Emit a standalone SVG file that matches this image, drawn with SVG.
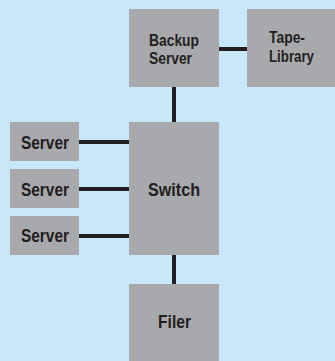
<svg xmlns="http://www.w3.org/2000/svg" width="335" height="361" viewBox="0 0 335 361">
<style>
.box{fill:#a8a9ad}
.lbl{font-family:"Liberation Sans",Arial,sans-serif;font-weight:bold;fill:#231f20}
.s{font-size:16.3px}
.b{font-size:19px}
.ln{stroke:#231f20;stroke-width:4;fill:none}
</style>
<rect width="335" height="361" fill="#c8e8fa"/>
<g id="connectors">
<line class="ln" x1="219" y1="49" x2="247" y2="49"/>
<line class="ln" x1="174" y1="87" x2="174" y2="122"/>
<line class="ln" x1="79" y1="142" x2="129" y2="142"/>
<line class="ln" x1="79" y1="189" x2="129" y2="189"/>
<line class="ln" x1="79" y1="236" x2="129" y2="236"/>
<line class="ln" x1="174" y1="255" x2="174" y2="284"/>
</g>
<g id="backup-server"><rect class="box" x="129" y="9" width="90" height="78"/><text class="lbl s" x="149" y="46" textLength="50" lengthAdjust="spacingAndGlyphs">Backup</text><text class="lbl s" x="149" y="64" textLength="43" lengthAdjust="spacingAndGlyphs">Server</text></g>
<g id="tape-library"><rect class="box" x="247" y="9" width="88" height="78"/><text class="lbl s" x="269" y="43" textLength="36" lengthAdjust="spacingAndGlyphs">Tape-</text><text class="lbl s" x="269" y="62" textLength="45" lengthAdjust="spacingAndGlyphs">Library</text></g>
<g id="switch"><rect class="box" x="129" y="122" width="90" height="133"/><text class="lbl b" x="148" y="196" textLength="52" lengthAdjust="spacingAndGlyphs">Switch</text></g>
<g id="server1"><rect class="box" x="10" y="122" width="69" height="39"/><text class="lbl b" x="21" y="149" textLength="48" lengthAdjust="spacingAndGlyphs">Server</text></g>
<g id="server2"><rect class="box" x="10" y="169" width="69" height="39"/><text class="lbl b" x="21" y="196" textLength="48" lengthAdjust="spacingAndGlyphs">Server</text></g>
<g id="server3"><rect class="box" x="10" y="216" width="69" height="39"/><text class="lbl b" x="21" y="242" textLength="48" lengthAdjust="spacingAndGlyphs">Server</text></g>
<g id="filer"><rect class="box" x="129" y="284" width="90" height="77"/><text class="lbl b" x="158" y="328" textLength="33" lengthAdjust="spacingAndGlyphs">Filer</text></g>
</svg>
